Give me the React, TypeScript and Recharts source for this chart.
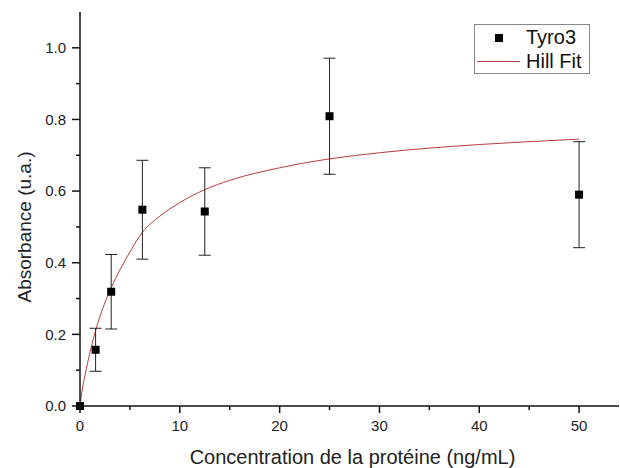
import React from 'react';
import { ComposedChart, Scatter, Line, XAxis, YAxis, ErrorBar, Legend } from 'recharts';

// Tyro3 measurements (concentration ng/mL, absorbance, error)
const concentrations = [0, 1.5625, 3.125, 6.25, 12.5, 25, 50];
const absorbance = [0.0, 0.157, 0.319, 0.548, 0.543, 0.809, 0.59];
const errors = [0, 0.06, 0.104, 0.138, 0.122, 0.162, 0.148];

// Hill fit curve
const fitX = [0, 0.25, 0.5, 1, 1.5625, 2, 3.125, 4, 5, 6.25, 8, 10, 12.5, 15, 20, 25, 30, 35, 40, 45, 50];
const fitY = [0, 0.05, 0.085, 0.15, 0.21, 0.25, 0.33, 0.38, 0.43, 0.485, 0.53, 0.568, 0.604, 0.63, 0.665, 0.69, 0.707, 0.72, 0.73, 0.738, 0.745];

const xMajor = [0, 10, 20, 30, 40, 50];
const xMinor = [5, 15, 25, 35, 45];
const yMajor = [0, 0.2, 0.4, 0.6, 0.8, 1.0];
const yMinor = [0.1, 0.3, 0.5, 0.7, 0.9];

const FONT = '"Liberation Sans", Arial, sans-serif';
const FIT_COLOR = '#b83c3c';
const AXIS = '#111';
const GAP = 14; // tickSize + tickMargin

const points = concentrations.map((x, i) => ({ x, y: absorbance[i], err: errors[i] }));
const fit = fitX.map((x, i) => ({ x, fit: fitY[i] }));

// tick marks drawn by hand so minor ticks can be shorter and unlabeled
function XTick(props: any) {
  const { x, y, payload } = props;
  const major = xMajor.includes(payload.value);
  const y0 = y - GAP;
  return (
    <g>
      <line x1={x} x2={x} y1={y0} y2={y0 + (major ? 7 : 4)} stroke={AXIS} strokeWidth={1.5} />
      {major && (
        <text x={x} y={y} dy="0.71em" textAnchor="middle" style={{ fontSize: 15, fill: '#222', fontFamily: FONT }}>
          {payload.value}
        </text>
      )}
    </g>
  );
}

function YTick(props: any) {
  const { x, y, payload } = props;
  const major = yMajor.some((v) => Math.abs(v - payload.value) < 1e-6);
  const x0 = x + GAP;
  return (
    <g>
      <line x1={x0} x2={x0 - (major ? 8 : 4)} y1={y} y2={y} stroke={AXIS} strokeWidth={1.5} />
      {major && (
        <text x={x} y={y} dy="0.355em" textAnchor="end" style={{ fontSize: 15, fill: '#222', fontFamily: FONT }}>
          {payload.value.toFixed(1)}
        </text>
      )}
    </g>
  );
}

function YTitle(props: any) {
  const { viewBox } = props;
  const cx = viewBox.x + 24;
  const cy = viewBox.y + viewBox.height / 2 + 18;
  return (
    <text
      x={cx}
      y={cy}
      transform={`rotate(-90 ${cx} ${cy})`}
      textAnchor="middle"
      dominantBaseline="central"
      style={{ fontSize: 19, fill: '#222', fontFamily: FONT }}
    >
      Absorbance (u.a.)
    </text>
  );
}

function LegendBox() {
  return (
    <div
      style={{
        width: 114,
        height: 48,
        border: '1px solid #888',
        background: '#fff',
        position: 'relative',
        fontFamily: FONT,
        fontSize: 20,
        color: '#111',
      }}
    >
      <div style={{ position: 'absolute', left: 20, top: 9, width: 8, height: 8, background: '#000' }} />
      <div style={{ position: 'absolute', left: 51, top: 2, lineHeight: '20px' }}>Tyro3</div>
      <div style={{ position: 'absolute', left: 2, top: 36, width: 43, height: 1, background: FIT_COLOR }} />
      <div style={{ position: 'absolute', left: 51, top: 26, lineHeight: '20px' }}>Hill Fit</div>
    </div>
  );
}

export default function App() {
  return (
    <div style={{ position: 'absolute', left: 0, top: 0, background: '#fff' }}>
      <ComposedChart width={620} height={468} margin={{ top: 12, right: 1, bottom: 0, left: 0 }}>
        <XAxis
          dataKey="x"
          type="number"
          domain={[0, 54]}
          ticks={[...xMajor, ...xMinor].sort((a, b) => a - b)}
          interval={0}
          height={62}
          tickSize={7}
          tickMargin={7}
          axisLine={{ stroke: AXIS, strokeWidth: 1.5 }}
          tickLine={false}
          tick={<XTick />}
          label={{
            value: 'Concentration de la protéine (ng/mL)',
            position: 'insideBottom',
            offset: 4,
            dx: 3,
            style: { fontSize: 20, fill: '#222', fontFamily: FONT },
          }}
        />
        <YAxis
          type="number"
          domain={[0, 1.1]}
          ticks={[...yMajor, ...yMinor].sort((a, b) => a - b)}
          interval={0}
          width={80}
          tickSize={8}
          tickMargin={6}
          axisLine={{ stroke: AXIS, strokeWidth: 1.5 }}
          tickLine={false}
          tick={<YTick />}
          label={<YTitle />}
        />
        <Line
          data={fit}
          dataKey="fit"
          type="monotone"
          stroke={FIT_COLOR}
          strokeWidth={1}
          dot={false}
          activeDot={false}
          isAnimationActive={false}
        />
        <Scatter data={points} dataKey="y" fill="#000" shape="square" isAnimationActive={false}>
          <ErrorBar dataKey="err" direction="y" width={6} stroke="#222" strokeWidth={1} />
        </Scatter>
        <Legend
          layout="vertical"
          align="center"
          verticalAlign="middle"
          wrapperStyle={{ left: 474, top: 24, width: 116, height: 50 }}
          content={() => <LegendBox />}
        />
      </ComposedChart>
    </div>
  );
}
